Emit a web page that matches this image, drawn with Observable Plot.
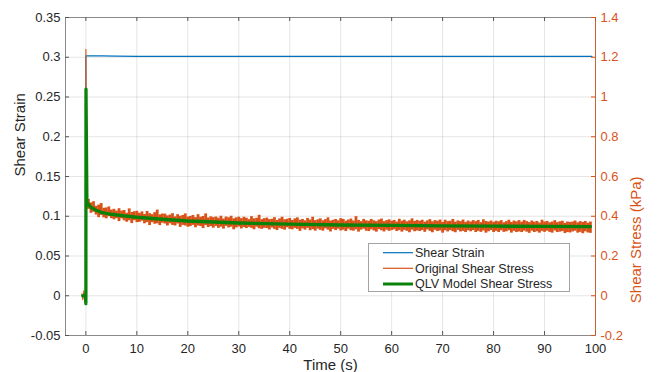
<!DOCTYPE html>
<html>
<head>
<meta charset="utf-8">
<script src="https://cdn.jsdelivr.net/npm/d3@7"></script>
<script src="https://cdn.jsdelivr.net/npm/@observablehq/plot@0.6"></script>
<style>
  html, body { margin: 0; padding: 0; background: #fff; }
  #chart { width: 657px; height: 372px; overflow: hidden; }
</style>
</head>
<body>
<div id="chart"></div>
<script>
// ---- axes / ticks ----
const xTicks = [0, 10, 20, 30, 40, 50, 60, 70, 80, 90, 100];
const xDomain = [-4, 100];
const strainTicks = [-0.05, 0, 0.05, 0.1, 0.15, 0.2, 0.25, 0.3, 0.35];
const strainDomain = [-0.05, 0.35];
const stressTicks = [-0.2, 0, 0.2, 0.4, 0.6, 0.8, 1, 1.2, 1.4];
const stressDomain = [-0.2, 1.4];

// ---- series: Shear Strain ----
const strainTime  = [-0.8, -0.02, 0, 1, 3, 6, 10, 20, 30, 40, 50, 60, 70, 80, 90, 99.3];
const strainValue = [0, 0, 0.3018, 0.3017, 0.3017, 0.3014, 0.3012, 0.3011, 0.3011, 0.3012, 0.3011, 0.3011, 0.3011, 0.3011, 0.3011, 0.3011];

// ---- series: Original Shear Stress (kPa), loading step ----
const stepTime  = [-0.8, -0.6, -0.4, -0.2, -0.05, 0, 0.1, 0.5];
const stepValue = [0.01, -0.02, 0.025, -0.015, 0.0, 1.24, 0.5, 0.46];

// ---- series: Original Shear Stress (kPa), noisy relaxation: high / low per sample ----
const noisyTime = [
  0.5, 1, 1.5, 2, 2.5, 3, 3.5, 4, 4.5, 5,
  5.5, 6, 6.5, 7, 7.5, 8, 8.5, 9, 9.5, 10,
  10.5, 11, 11.5, 12, 12.5, 13, 13.5, 14, 14.5, 15,
  15.5, 16, 16.5, 17, 17.5, 18, 18.5, 19, 19.5, 20,
  20.5, 21, 21.5, 22, 22.5, 23, 23.5, 24, 24.5, 25,
  25.5, 26, 26.5, 27, 27.5, 28, 28.5, 29, 29.5, 30,
  30.5, 31, 31.5, 32, 32.5, 33, 33.5, 34, 34.5, 35,
  35.5, 36, 36.5, 37, 37.5, 38, 38.5, 39, 39.5, 40,
  40.5, 41, 41.5, 42, 42.5, 43, 43.5, 44, 44.5, 45,
  45.5, 46, 46.5, 47, 47.5, 48, 48.5, 49, 49.5, 50,
  50.5, 51, 51.5, 52, 52.5, 53, 53.5, 54, 54.5, 55,
  55.5, 56, 56.5, 57, 57.5, 58, 58.5, 59, 59.5, 60,
  60.5, 61, 61.5, 62, 62.5, 63, 63.5, 64, 64.5, 65,
  65.5, 66, 66.5, 67, 67.5, 68, 68.5, 69, 69.5, 70,
  70.5, 71, 71.5, 72, 72.5, 73, 73.5, 74, 74.5, 75,
  75.5, 76, 76.5, 77, 77.5, 78, 78.5, 79, 79.5, 80,
  80.5, 81, 81.5, 82, 82.5, 83, 83.5, 84, 84.5, 85,
  85.5, 86, 86.5, 87, 87.5, 88, 88.5, 89, 89.5, 90,
  90.5, 91, 91.5, 92, 92.5, 93, 93.5, 94, 94.5, 95,
  95.5, 96, 96.5, 97, 97.5, 98, 98.5, 99
];
const noisyHigh = [
  0.485, 0.467, 0.473, 0.450, 0.456, 0.464, 0.440, 0.442, 0.447, 0.431,
  0.435, 0.426, 0.438, 0.426, 0.429, 0.415, 0.437, 0.419, 0.423, 0.425,
  0.415, 0.422, 0.409, 0.424, 0.413, 0.408, 0.418, 0.431, 0.407, 0.411,
  0.411, 0.402, 0.406, 0.413, 0.397, 0.408, 0.400, 0.404, 0.412, 0.396,
  0.399, 0.404, 0.393, 0.408, 0.395, 0.399, 0.412, 0.391, 0.397, 0.393,
  0.396, 0.390, 0.400, 0.386, 0.396, 0.392, 0.400, 0.387, 0.392, 0.395,
  0.388, 0.395, 0.390, 0.383, 0.398, 0.387, 0.390, 0.405, 0.383, 0.388,
  0.391, 0.383, 0.385, 0.393, 0.379, 0.387, 0.395, 0.382, 0.385, 0.389,
  0.379, 0.387, 0.392, 0.380, 0.384, 0.377, 0.389, 0.381, 0.395, 0.378,
  0.382, 0.387, 0.377, 0.383, 0.392, 0.376, 0.380, 0.384, 0.377, 0.388,
  0.384, 0.375, 0.381, 0.386, 0.376, 0.398, 0.379, 0.373, 0.384, 0.377,
  0.375, 0.384, 0.377, 0.373, 0.381, 0.386, 0.373, 0.378, 0.382, 0.375,
  0.379, 0.371, 0.385, 0.375, 0.380, 0.372, 0.377, 0.387, 0.374, 0.379,
  0.375, 0.380, 0.370, 0.377, 0.383, 0.372, 0.378, 0.375, 0.381, 0.369,
  0.380, 0.373, 0.375, 0.384, 0.370, 0.377, 0.373, 0.381, 0.369, 0.376,
  0.371, 0.378, 0.373, 0.379, 0.368, 0.382, 0.374, 0.371, 0.376, 0.369,
  0.375, 0.372, 0.378, 0.367, 0.373, 0.380, 0.369, 0.376, 0.372, 0.378,
  0.370, 0.379, 0.373, 0.368, 0.376, 0.370, 0.374, 0.366, 0.380, 0.371,
  0.374, 0.367, 0.371, 0.378, 0.368, 0.372, 0.375, 0.364, 0.371, 0.369,
  0.371, 0.376, 0.367, 0.373, 0.369, 0.374, 0.365, 0.371
];
const noisyLow = [
  0.435, 0.415, 0.420, 0.406, 0.393, 0.404, 0.392, 0.387, 0.398, 0.388,
  0.382, 0.388, 0.373, 0.387, 0.377, 0.370, 0.377, 0.363, 0.378, 0.368,
  0.369, 0.375, 0.362, 0.368, 0.353, 0.368, 0.360, 0.362, 0.353, 0.365,
  0.361, 0.351, 0.362, 0.354, 0.351, 0.361, 0.344, 0.354, 0.351, 0.345,
  0.348, 0.354, 0.342, 0.351, 0.348, 0.338, 0.353, 0.343, 0.348, 0.340,
  0.349, 0.339, 0.345, 0.335, 0.349, 0.341, 0.345, 0.332, 0.341, 0.346,
  0.336, 0.343, 0.338, 0.344, 0.339, 0.332, 0.345, 0.337, 0.334, 0.339,
  0.338, 0.331, 0.341, 0.334, 0.328, 0.339, 0.334, 0.330, 0.342, 0.334,
  0.332, 0.339, 0.334, 0.324, 0.336, 0.330, 0.339, 0.327, 0.333, 0.325,
  0.335, 0.329, 0.325, 0.337, 0.330, 0.321, 0.334, 0.328, 0.335, 0.326,
  0.330, 0.323, 0.335, 0.327, 0.325, 0.332, 0.320, 0.330, 0.335, 0.325,
  0.323, 0.332, 0.326, 0.320, 0.333, 0.327, 0.321, 0.330, 0.324, 0.328,
  0.332, 0.323, 0.328, 0.320, 0.329, 0.324, 0.317, 0.330, 0.322, 0.326,
  0.323, 0.328, 0.319, 0.331, 0.324, 0.317, 0.329, 0.323, 0.326, 0.315,
  0.327, 0.321, 0.328, 0.322, 0.317, 0.329, 0.321, 0.324, 0.318, 0.327,
  0.322, 0.328, 0.318, 0.324, 0.319, 0.326, 0.315, 0.322, 0.328, 0.318,
  0.324, 0.318, 0.327, 0.319, 0.322, 0.327, 0.315, 0.324, 0.318, 0.321,
  0.318, 0.325, 0.320, 0.314, 0.325, 0.318, 0.322, 0.315, 0.324, 0.319,
  0.325, 0.319, 0.315, 0.326, 0.318, 0.320, 0.323, 0.313, 0.318, 0.316,
  0.321, 0.325, 0.315, 0.319, 0.312, 0.322, 0.316, 0.314
];

// ---- series: QLV Model Shear Stress (kPa) ----
const modelTime  = [-0.6, -0.1, 0, 0.02, 0.2, 0.5, 1, 2, 3, 5, 7.5, 10, 15, 20, 25, 30, 40, 50, 60, 70, 80, 90, 99];
const modelValue = [0, 0, -0.04, 1.04, 0.47, 0.46, 0.445, 0.43, 0.42, 0.41, 0.402, 0.395, 0.385, 0.376, 0.371, 0.366, 0.36, 0.356, 0.354, 0.352, 0.35, 0.349, 0.348];

const seriesNames = ["Shear Strain", "Original Shear Stress", "QLV Model Shear Stress"];
const seriesColors = ["#0072BD", "#D95319", "#0A820A"];
const axisOrange = "#D95319";

// ratio between right (stress) and left (strain) axis
const stressPerStrain = (stressDomain[1] - stressDomain[0]) / (strainDomain[1] - strainDomain[0]);

const strainData = strainTime.map((t, i) => ({t, v: strainValue[i]}));
const stepData = stepTime.map((t, i) => ({t, v: stepValue[i] / stressPerStrain}));
const noisyData = noisyTime.map((t, i) => ({t, lo: noisyLow[i] / stressPerStrain, hi: noisyHigh[i] / stressPerStrain}));
const modelData = modelTime.map((t, i) => ({t, v: modelValue[i] / stressPerStrain}));

const W = 657, H = 372;
const mL = 65, mR = 62, mT = 17, mB = 37;
const pw = W - mL - mR, ph = H - mT - mB;
const fmt = d => String(+d.toFixed(3));

const plot = Plot.plot({
  width: W, height: H,
  marginLeft: mL, marginRight: mR, marginTop: mT, marginBottom: mB,
  style: {fontFamily: "'Liberation Sans', Arial, Helvetica, sans-serif", fontSize: "13px", background: "#fff", color: "#262626"},
  x: {domain: xDomain},
  y: {domain: strainDomain},
  marks: [
    Plot.gridX(xTicks, {stroke: "#000", strokeOpacity: 0.1}),
    Plot.gridY(strainTicks, {stroke: "#000", strokeOpacity: 0.1}),
    Plot.frame({stroke: "#8a8a8a"}),
    Plot.line(strainData, {x: "t", y: "v", stroke: seriesColors[0], strokeWidth: 1.2}),
    Plot.line(stepData, {x: "t", y: "v", stroke: seriesColors[1], strokeWidth: 1.1}),
    Plot.ruleX(noisyData, {x: "t", y1: "lo", y2: "hi", stroke: seriesColors[1], strokeWidth: 2.8}),
    Plot.line(modelData, {x: "t", y: "v", stroke: seriesColors[2], strokeWidth: 3.3}),
    // inward ticks
    Plot.tickY(strainTicks, {y: d => d, stroke: "#555", insetRight: pw - 4}),
    Plot.tickY(strainTicks, {y: d => d, stroke: axisOrange, insetLeft: pw - 4}),
    Plot.tickX(xTicks, {x: d => d, stroke: "#555", insetTop: ph - 4}),
    Plot.tickX(xTicks, {x: d => d, stroke: "#555", insetBottom: ph - 4}),
    Plot.ruleX([xDomain[1]], {stroke: axisOrange, strokeOpacity: 0.75}),
    Plot.axisY({ticks: strainTicks, tickSize: 0, tickPadding: 5, tickFormat: fmt, fill: "#262626", label: null}),
    Plot.axisY({anchor: "right", ticks: stressTicks.map(v => v / stressPerStrain), tickSize: 0, tickPadding: 5,
      tickFormat: d => fmt(d * stressPerStrain), fill: axisOrange, label: null}),
    Plot.axisX({ticks: xTicks, tickSize: 0, tickPadding: 8, tickFormat: fmt, fill: "#262626", label: null}),
    Plot.text(["Shear Strain"], {frameAnchor: "left", dx: -45, rotate: -90, fontSize: 15, fill: "#262626"}),
    Plot.text(["Shear Stress (kPa)"], {frameAnchor: "right", dx: 41, rotate: -90, fontSize: 15, fill: axisOrange}),
    Plot.text(["Time (s)"], {frameAnchor: "bottom", dy: 34, fontSize: 15, fill: "#262626"})
  ]
});

// legend (drawn into the same svg)
const svg = d3.select(plot);
const lg = svg.append("g").attr("font-size", 12.5).attr("fill", "#262626").attr("text-anchor", "start");
lg.append("rect").attr("x", 368.5).attr("y", 243.5).attr("width", 201).attr("height", 48)
  .attr("fill", "#fff").attr("stroke", "#a3a3a3");
const rowY = [252.7, 268.3, 284];
const rowW = [1.2, 1.2, 3];
seriesNames.forEach((name, i) => {
  lg.append("line").attr("x1", 383).attr("x2", 413).attr("y1", rowY[i]).attr("y2", rowY[i])
    .attr("stroke", seriesColors[i]).attr("stroke-width", rowW[i]);
  lg.append("text").attr("x", 415).attr("y", rowY[i]).attr("dy", "0.35em")
    .attr("text-anchor", "start").text(name);
});

document.getElementById("chart").appendChild(plot);
</script>
</body>
</html>
